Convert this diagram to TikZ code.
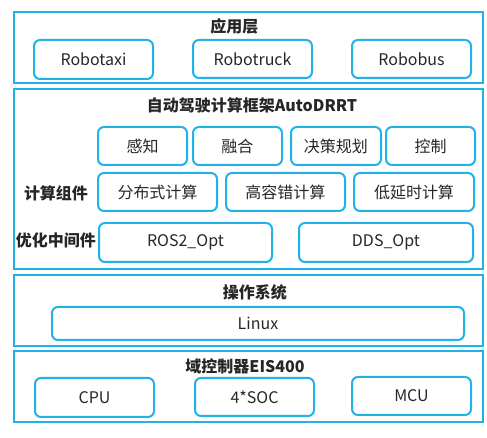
\documentclass[tikz,border=0pt]{standalone}
\usepackage{fontspec}
\setmainfont{Noto Sans CJK SC}
\definecolor{layerblue}{RGB}{33,178,232}
\tikzset{every picture/.style={line width=0.75pt}}
\tikzset{
  layer/.style={draw=layerblue, line width=1.5pt},
  part/.style={draw=layerblue, line width=1.5pt, rounded corners=4.5pt},
  title/.style={inner sep=0.75pt, font=\bfseries\fontsize{12}{14}\selectfont, text=black!85},
  word/.style={inner sep=0.75pt, font=\fontsize{12}{14}\selectfont, text=black!85},
}

\begin{document}
\begin{tikzpicture}[x=0.75pt,y=0.75pt,yscale=-1,xscale=1]
\useasboundingbox (0,0) rectangle (487,438);

%Shape: Rectangle [id:app]
\draw [layer] (14,12) rectangle (483,83) ;
\node (apptitle) [title] at (234.5,26) {应用层};
\draw [part] (34,40) rectangle (153,79) ;
\node (robotaxi) [word] at (93.5,59.5) {Robotaxi};
\draw [part] (193,40) rectangle (312,78) ;
\node (robotruck) [word] at (252.5,59) {Robotruck};
\draw [part] (352,40) rectangle (471,78) ;
\node (robobus) [word] at (411.5,59) {Robobus};

%Shape: Rectangle [id:framework]
\draw [layer] (14,89) rectangle (483,269) ;
\node (fwtitle) [title] at (252,105) {自动驾驶计算框架AutoDRRT};
% first row
\draw [part] (98,127) rectangle (187,165) ;
\node (perceive) [word] at (142.5,146) {感知};
\draw [part] (193,127) rectangle (282,165) ;
\node (fusion) [word] at (237.5,146) {融合};
\draw [part] (291,127) rectangle (381,165) ;
\node (plan) [word] at (336,146) {决策规划};
\draw [part] (386,127) rectangle (475,165) ;
\node (control) [word] at (430.5,146) {控制};
% second row
\node (complabel) [title] at (56,193) {计算组件};
\draw [part] (98,173) rectangle (217,211) ;
\node (distrib) [word] at (157.5,192) {分布式计算};
\draw [part] (226,173) rectangle (345,211) ;
\node (faulttol) [word] at (285.5,192) {高容错计算};
\draw [part] (354,173) rectangle (474,211) ;
\node (lowlat) [word] at (414,192) {低延时计算};
% third row
\node (midlabel) [title] at (56,240) {优化中间件};
\draw [part] (99,223) rectangle (272,262) ;
\node (ros) [word] at (185.5,242.5) {ROS2\_Opt};
\draw [part] (299,223) rectangle (473,262) ;
\node (dds) [word] at (386,242.5) {DDS\_Opt};

%Shape: Rectangle [id:os]
\draw [layer] (14,275) rectangle (483,346) ;
\node (ostitle) [title] at (255,292) {操作系统};
\draw [part] (52,307) rectangle (464,340) ;
\node (linux) [word] at (258,323.5) {Linux};

%Shape: Rectangle [id:hw]
\draw [layer] (14,351) rectangle (483,422) ;
\node (hwtitle) [title] at (245,366) {域控制器EIS400};
\draw [part] (35,378) rectangle (154,417) ;
\node (cpu) [word] at (94.5,397.5) {CPU};
\draw [part] (195,378) rectangle (314,416) ;
\node (soc) [word] at (254.5,397) {4*SOC};
\draw [part] (352,377) rectangle (471,415) ;
\node (mcu) [word] at (411.5,396) {MCU};

\end{tikzpicture}
\end{document}
